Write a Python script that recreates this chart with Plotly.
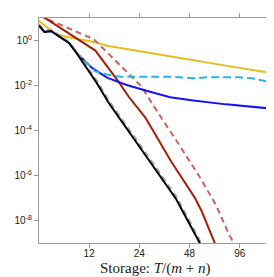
import math
import plotly.graph_objects as go

# ---- data ----
yellow_x = [6.0, 7.55, 9.04, 13.02, 15.34, 20.15, 26.48, 36.39, 47.8, 68.8, 103.6, 150.0]
yellow_y = [7.41, 1.96, 1.39, 0.844, 0.588, 0.418, 0.292, 0.188, 0.139, 0.0905, 0.0548, 0.0357]

lightred_x = [6.0, 12.79, 15.70, 18.39, 24.73, 29.25, 36.74, 41.71, 56.6, 69.5, 83.3, 92.9]
lightred_y = [13.0, 1.14, 0.254, 0.0794, 0.00905, 0.00122, 1e-4, 2.23e-5, 6.5e-7, 4.49e-8, 2.23e-9, 4.96e-10]

darkred_x = [6.0, 13.08, 17.99, 20.63, 26.12, 37.24, 51.67, 56.6, 67.9, 71.7]
darkred_y = [14.9, 0.357, 0.0149, 0.00332, 0.000367, 4.18e-6, 1.03e-7, 2.72e-8, 1.03e-9, 3.67e-10]

blue_x = [6.0, 6.47, 7.08, 9.09, 10.19, 12.5, 15.34, 20.15, 26.48, 36.74, 50.49, 79.6, 150.0]
blue_y = [4.63, 2.39, 2.64, 0.779, 0.259, 0.0606, 0.0223, 0.0105, 0.00588, 0.00301, 0.00216, 0.00145, 0.000932]

cyan_x = [6.0, 6.47, 7.08, 9.09, 10.19, 12.5, 13.02, 15.34, 18.39, 24.40, 36.74, 51.67, 60.6, 95.5, 114.0, 150.0]
cyan_y = [4.63, 2.39, 2.64, 0.779, 0.272, 0.0548, 0.0427, 0.031, 0.0246, 0.0246, 0.0246, 0.0208, 0.0234, 0.023, 0.0208, 0.0135]

gray_x = [6.0, 6.47, 7.08, 9.09, 10.19, 13.38, 15.70, 24.40, 31.75, 39.87, 50.28, 56.86, 59.2]
gray_y = [5.22, 2.86, 3.01, 0.861, 0.286, 0.0157, 0.00223, 2.23e-5, 1.49e-6, 1.22e-7, 4.96e-9, 1e-9, 4.96e-10]

black_x = [6.0, 6.47, 7.08, 9.09, 10.19, 13.38, 15.70, 24.40, 31.75, 39.87, 50.28, 55.3, 58.4]
black_y = [4.63, 2.39, 2.64, 0.779, 0.246, 0.0122, 0.0017, 1.65e-5, 1.105e-6, 9.05e-8, 3.67e-9, 1e-9, 3.67e-10]

x_tickvals = [12, 24, 48, 96]
x_ticktext = ["12", "24", "48", "96"]
y_tickvals = [1, 1e-2, 1e-4, 1e-6, 1e-8]
y_ticktext = ["10<sup>0</sup>", "10<sup>-2</sup>", "10<sup>-4</sup>", "10<sup>-6</sup>", "10<sup>-8</sup>"]
x_title = "Storage: <i>T</i>/(<i>m</i> + <i>n</i>)"

series = [
    (yellow_x, yellow_y, "#E9BC1C", "solid"),
    (lightred_x, lightred_y, "#C8645A", "6px,4px"),
    (darkred_x, darkred_y, "#A51E05", "solid"),
    (blue_x, blue_y, "#1414F0", "solid"),
    (cyan_x, cyan_y, "#28B4E8", "8px,4px"),
    (gray_x, gray_y, "#A8A8A8", "6px,4px"),
    (black_x, black_y, "#000000", "solid"),
]

fig = go.Figure()
for xs, ys, col, dash in series:
    fig.add_trace(go.Scatter(x=xs, y=ys, mode="lines",
                             line=dict(color=col, width=2, dash=dash),
                             showlegend=False, hoverinfo="skip"))

axcol = "#9a9a9a"
fig.update_layout(
    width=274, height=277,
    margin=dict(l=31, r=7, t=5, b=42),
    paper_bgcolor="white", plot_bgcolor="white",
    font=dict(family="Liberation Sans, Arial", size=10, color="#222"),
    xaxis=dict(type="log", range=[math.log10(6), math.log10(150)],
               tickvals=x_tickvals, ticktext=x_ticktext,
               ticks="outside", ticklen=4, tickcolor=axcol, tickwidth=1,
               ticklabelstandoff=-3,
               showline=True, linecolor=axcol, linewidth=1.2, mirror="ticks",
               showgrid=False, zeroline=False),
    yaxis=dict(type="log", range=[-9, 1],
               tickvals=y_tickvals, ticktext=y_ticktext,
               ticks="outside", ticklen=4, tickcolor=axcol, tickwidth=1,
               showline=True, linecolor=axcol, linewidth=1.2, mirror="ticks",
               showgrid=False, zeroline=False),
    annotations=[dict(text=x_title, xref="paper", yref="paper", x=0.5, y=-0.112,
                      xanchor="center", yanchor="middle", showarrow=False,
                      font=dict(family="Liberation Serif, DejaVu Serif", size=15, color="#222"))],
)

fig.write_html("out.html")
